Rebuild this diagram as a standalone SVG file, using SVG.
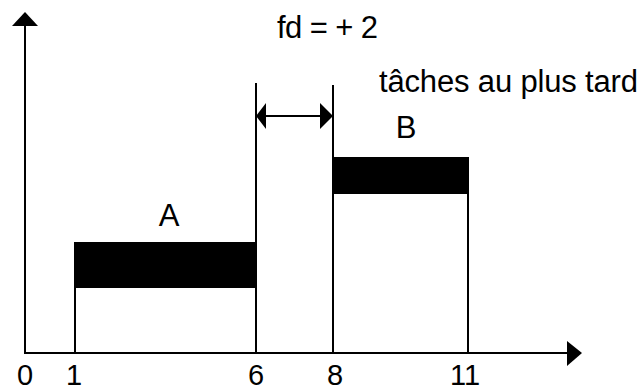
<svg xmlns="http://www.w3.org/2000/svg" width="642" height="391" viewBox="0 0 642 391">
<style>
.ln{stroke:#000;stroke-width:2;fill:none}
.bar{fill:#000}
.hd{fill:#000;stroke:none}
text{font-family:"Liberation Sans",Arial,sans-serif;font-size:31px;fill:#000}
.num{font-size:29px}
</style>
<rect width="642" height="391" fill="#fff"/>
<g id="axes">
<line class="ln" x1="25" y1="24" x2="25" y2="353"/>
<line class="ln" x1="24" y1="353" x2="570" y2="353"/>
<polygon class="hd" points="25,12 38,26 12,26"/>
<polygon class="hd" points="582,353 567,341 567,366"/>
<text class="num" x="25" y="385" text-anchor="middle">0</text>
<text class="num" x="74" y="385" text-anchor="middle">1</text>
<text class="num" x="256" y="385" text-anchor="middle">6</text>
<text class="num" x="335" y="385" text-anchor="middle">8</text>
<text class="num" x="465" y="385" text-anchor="middle">11</text>
</g>
<g id="taskA">
<rect class="bar" x="75" y="242" width="180" height="46"/>
<line class="ln" x1="75" y1="242" x2="75" y2="353"/>
<text x="169" y="226" text-anchor="middle">A</text>
</g>
<g id="taskB">
<rect class="bar" x="333" y="157" width="135" height="37"/>
<line class="ln" x1="468" y1="157" x2="468" y2="353"/>
<text x="406" y="138" text-anchor="middle">B</text>
</g>
<g id="connectors">
<line class="ln" x1="256" y1="83" x2="256" y2="353"/>
<line class="ln" x1="333" y1="85" x2="333" y2="353"/>
<line class="ln" x1="262" y1="116" x2="326" y2="116"/>
<polygon class="hd" points="256,116 266,103 266,129"/>
<polygon class="hd" points="333,116 320,103 320,129"/>
</g>
<g id="labels">
<text x="277" y="38" textLength="101" lengthAdjust="spacing">fd = + 2</text>
<text x="379" y="92" textLength="259" lengthAdjust="spacing">tâches au plus tard</text>
</g>
</svg>
